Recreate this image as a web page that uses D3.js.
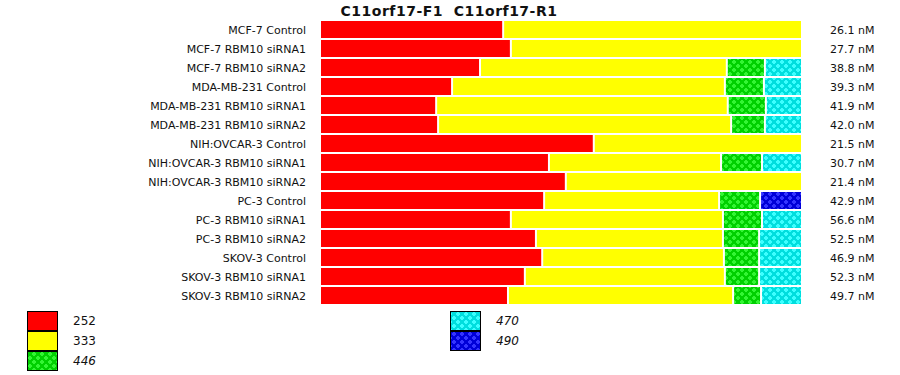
<!DOCTYPE html>
<html>
<head>
<meta charset="utf-8">
<script src="https://cdn.jsdelivr.net/npm/d3@7"></script>
<style>
  body { margin: 0; background: #fff; }
  text { font-family: "DejaVu Sans", Verdana, sans-serif; fill: #111; }
</style>
</head>
<body>
<script>
'use strict';

// samples, top to bottom
let samples = [
  "MCF-7 Control", "MCF-7 RBM10 siRNA1", "MCF-7 RBM10 siRNA2",
  "MDA-MB-231 Control", "MDA-MB-231 RBM10 siRNA1", "MDA-MB-231 RBM10 siRNA2",
  "NIH:OVCAR-3 Control", "NIH:OVCAR-3 RBM10 siRNA1", "NIH:OVCAR-3 RBM10 siRNA2",
  "PC-3 Control", "PC-3 RBM10 siRNA1", "PC-3 RBM10 siRNA2",
  "SKOV-3 Control", "SKOV-3 RBM10 siRNA1", "SKOV-3 RBM10 siRNA2"
];

// share of each product size (percent of row)
let s252 = [38.0, 39.6, 33.2, 27.4, 24.1, 24.5, 56.8, 47.5, 51.0, 46.5, 39.6, 44.8, 46.1, 42.5, 39.0];
let s333 = [62.0, 60.4, 51.2, 56.6, 60.5, 60.8, 43.2, 35.7, 49.0, 36.3, 44.0, 38.8, 37.7, 41.5, 46.7];
let s446 = [0, 0, 7.9, 8.1, 7.9, 7.0, 0, 8.5, 0, 8.5, 8.1, 7.5, 7.3, 7.1, 5.8];
let s470 = [0, 0, 7.7, 7.9, 7.5, 7.7, 0, 8.3, 0, 0, 8.3, 8.9, 8.9, 8.9, 8.5];
let s490 = [0, 0, 0, 0, 0, 0, 0, 0, 0, 8.7, 0, 0, 0, 0, 0];

// concentration shown at the right
let conc = [26.1, 27.7, 38.8, 39.3, 41.9, 42.0, 21.5, 30.7, 21.4, 42.9, 56.6, 52.5, 46.9, 52.3, 49.7];

let keys = ["252", "333", "446", "470", "490"];
let italicKeys = ["446", "470", "490"];

let svg = d3.select('body').append('svg')
  .attr('width', 900)
  .attr('height', 375);

// patterns for the hatched sizes
let defs = svg.append('defs');
let patternColors = {
  "446": ["#00d000", "#33f533"],
  "470": ["#00dede", "#3dffff"],
  "490": ["#0000d8", "#3535ff"]
};
Object.keys(patternColors).forEach(function(k) {
  let p = defs.append('pattern')
    .attr('id', 'pat' + k)
    .attr('patternUnits', 'userSpaceOnUse')
    .attr('width', 8)
    .attr('height', 8);
  p.append('rect').attr('width', 8).attr('height', 8).attr('fill', patternColors[k][0]);
  // small plus signs, staggered
  [[2, 2], [6, 6]].forEach(function(c) {
    p.append('rect').attr('x', c[0] - 1).attr('y', c[1] - 2).attr('width', 2).attr('height', 4).attr('fill', patternColors[k][1]);
    p.append('rect').attr('x', c[0] - 2).attr('y', c[1] - 1).attr('width', 4).attr('height', 2).attr('fill', patternColors[k][1]);
  });
});

let fills = {
  "252": "#ff0000",
  "333": "#ffff00",
  "446": "url(#pat446)",
  "470": "url(#pat470)",
  "490": "url(#pat490)"
};

// build table for stacking
let rows = samples.map(function(s, i) {
  return { sample: s, "252": s252[i], "333": s333[i], "446": s446[i], "470": s470[i], "490": s490[i] };
});
let stacked = d3.stack().keys(keys)(rows);

let x = d3.scaleLinear().domain([0, 100]).range([321, 803]);
let y = d3.scaleBand().domain(samples).range([21, 304]).paddingInner(2 / 19);

// title
svg.append('text')
  .attr('x', 449)
  .attr('y', 16)
  .attr('text-anchor', 'middle')
  .style('font-size', '14px')
  .style('font-weight', 'bold')
  .style('letter-spacing', '0.5px')
  .text("C11orf17-F1  C11orf17-R1")
  .attr('xml:space', 'preserve');

// bars
stacked.forEach(function(layer) {
  svg.append('g').selectAll('rect')
    .data(layer.filter(function(d) { return d[1] - d[0] > 0; }))
    .enter()
    .append('rect')
      .attr('x', function(d) { return x(d[0]); })
      .attr('y', function(d) { return y(d.data.sample); })
      .attr('width', function(d) { return x(d[1]) - x(d[0]) - 2; })
      .attr('height', y.bandwidth())
      .attr('fill', fills[layer.key]);
});

// sample labels
svg.append('g').selectAll('text')
  .data(samples)
  .enter()
  .append('text')
    .attr('x', 306)
    .attr('y', function(d) { return y(d) + y.bandwidth() / 2 + 4; })
    .attr('text-anchor', 'end')
    .style('font-size', '11px')
    .text(function(d) { return d; });

// concentration labels
svg.append('g').selectAll('text')
  .data(conc)
  .enter()
  .append('text')
    .attr('x', 830)
    .attr('y', function(d, i) { return y(samples[i]) + y.bandwidth() / 2 + 4; })
    .style('font-size', '11px')
    .text(function(d) { return d.toFixed(1) + " nM"; });

// legend, two columns
let legendPos = [
  { key: "252", x: 27, y: 311 },
  { key: "333", x: 27, y: 331 },
  { key: "446", x: 27, y: 351 },
  { key: "470", x: 450, y: 311 },
  { key: "490", x: 450, y: 331 }
];
let legend = svg.append('g');
legend.selectAll('rect')
  .data(legendPos)
  .enter()
  .append('rect')
    .attr('x', function(d) { return d.x + 0.5; })
    .attr('y', function(d) { return d.y + 0.5; })
    .attr('width', 30)
    .attr('height', 19)
    .attr('fill', function(d) { return fills[d.key]; })
    .attr('stroke', '#000')
    .attr('stroke-width', 1);
legend.selectAll('text')
  .data(legendPos)
  .enter()
  .append('text')
    .attr('x', function(d) { return d.x + 46; })
    .attr('y', function(d) { return d.y + 14; })
    .style('font-size', '12px')
    .style('font-style', function(d) { return italicKeys.indexOf(d.key) >= 0 ? 'italic' : 'normal'; })
    .text(function(d) { return d.key; });
</script>
</body>
</html>
